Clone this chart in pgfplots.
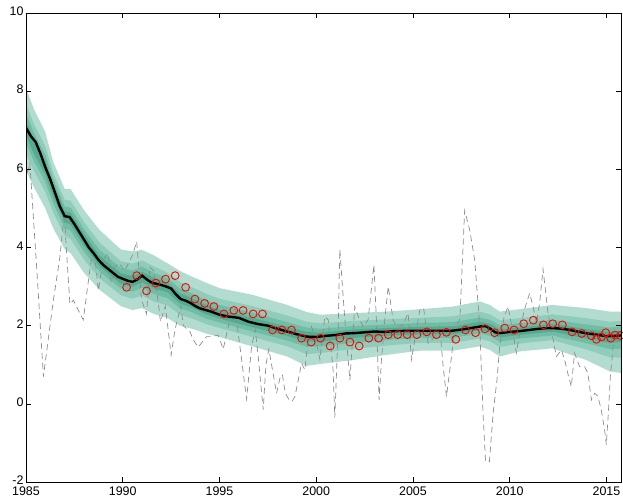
\documentclass[border=0pt]{standalone}
\usepackage{fontspec}
\setmainfont{Liberation Sans}
\usepackage{pgfplots}
\usepackage{pgfplotstable}
\pgfplotsset{compat=1.18}
\usepgfplotslibrary{fillbetween}

\definecolor{cA}{RGB}{179,220,208}
\definecolor{cB}{RGB}{144,204,186}
\definecolor{cC}{RGB}{112,188,164}
\definecolor{cD}{RGB}{84,171,143}

\pgfplotstableread{
x        t1   t2   t3   t4   b4   b3   b2   b1
1985.0   8.08 7.67 7.43 7.24 6.87 6.67 6.41 5.98
1985.4   7.55 7.17 6.94 6.77 6.41 6.22 5.97 5.55
1986.0   6.95 6.59 6.37 6.21 5.86 5.67 5.42 5.00
1986.4   6.20 5.92 5.75 5.63 5.32 5.14 4.90 4.50
1987.0   5.50 5.22 5.05 4.93 4.65 4.50 4.30 3.96
1987.3   5.50 5.20 5.02 4.89 4.59 4.43 4.22 3.86
1988.0   4.95 4.65 4.47 4.34 4.05 3.89 3.69 3.35
1988.8   4.45 4.13 3.94 3.79 3.52 3.39 3.21 2.92
1989.9   3.95 3.65 3.47 3.34 3.07 2.95 2.78 2.50
1990.5   3.90 3.59 3.41 3.27 3.00 2.87 2.69 2.40
1991.0   3.94 3.67 3.51 3.38 3.11 2.97 2.77 2.45
1991.6   3.80 3.52 3.35 3.22 2.95 2.81 2.62 2.30
1992.3   3.60 3.36 3.22 3.11 2.86 2.71 2.52 2.20
1992.95  3.40 3.12 2.95 2.83 2.57 2.45 2.28 2.00
1993.6   3.25 2.98 2.82 2.70 2.46 2.34 2.18 1.92
1994.3   3.10 2.82 2.65 2.53 2.29 2.18 2.04 1.80
1995.0   2.96 2.69 2.53 2.40 2.18 2.08 1.94 1.71
1996.7   2.79 2.50 2.33 2.20 1.96 1.85 1.71 1.47
1998.5   2.53 2.26 2.09 1.97 1.74 1.62 1.47 1.21
1999.5   2.35 2.10 1.95 1.84 1.59 1.46 1.27 0.97
2000.2   2.28 2.06 1.92 1.82 1.59 1.47 1.30 1.02
2001.9   2.32 2.12 1.99 1.90 1.69 1.56 1.40 1.12
2003.6   2.36 2.16 2.03 1.94 1.74 1.63 1.49 1.25
2005.35  2.42 2.20 2.07 1.97 1.78 1.69 1.56 1.36
2007.07  2.49 2.24 2.09 1.98 1.78 1.69 1.56 1.36
2008.45  2.62 2.36 2.21 2.10 1.89 1.80 1.67 1.47
2008.97  2.53 2.29 2.15 2.05 1.84 1.74 1.60 1.38
2009.48  2.36 2.14 2.01 1.91 1.70 1.59 1.45 1.21
2010.5   2.42 2.19 2.06 1.95 1.76 1.67 1.54 1.34
2012.2   2.53 2.29 2.15 2.05 1.85 1.75 1.63 1.42
2013.96  2.45 2.19 2.03 1.91 1.67 1.55 1.39 1.12
2015.17  2.36 2.10 1.95 1.84 1.56 1.40 1.19 0.83
2015.75  2.36 2.12 1.98 1.87 1.59 1.41 1.18 0.79
}\bands

\begin{document}
\begin{tikzpicture}
\begin{axis}[
  name=ax, scale only axis, width=595bp, height=469bp,
  xmin=1985, xmax=2015.75, ymin=-2, ymax=10,
  xtick={1985,1990,1995,2000,2005,2010,2015},
  ytick={-2,0,2,4,6,8,10},
  /pgf/number format/1000 sep={},
  /pgf/number format/assume math mode=true,
  tick label style={font=\fontsize{12.5}{14}\selectfont},
  xticklabel style={yshift=-1.5bp},
  yticklabel style={xshift=1bp, yshift=1.5bp},
  tick align=inside, major tick length=5bp,
  tick style={black, line width=0.6bp},
  axis line style={line width=0.8bp},
  axis on top,
]
\addplot[draw=none, name path=t1, forget plot] table[x=x,y=t1]{\bands};
\addplot[draw=none, name path=b1, forget plot] table[x=x,y=b1]{\bands};
\addplot[draw=none, name path=t2, forget plot] table[x=x,y=t2]{\bands};
\addplot[draw=none, name path=b2, forget plot] table[x=x,y=b2]{\bands};
\addplot[draw=none, name path=t3, forget plot] table[x=x,y=t3]{\bands};
\addplot[draw=none, name path=b3, forget plot] table[x=x,y=b3]{\bands};
\addplot[draw=none, name path=t4, forget plot] table[x=x,y=t4]{\bands};
\addplot[draw=none, name path=b4, forget plot] table[x=x,y=b4]{\bands};
\addplot[fill=cA, draw=none] fill between[of=t1 and b1];
\addplot[fill=cB, draw=none] fill between[of=t2 and b2];
\addplot[fill=cC, draw=none] fill between[of=t3 and b3];
\addplot[fill=cD, draw=none] fill between[of=t4 and b4];

% dashed series
\addplot[gray!90, line width=0.7bp, dash pattern=on 6bp off 4bp] coordinates {
(1985.05,5.9) (1985.2,6.15) (1985.55,3.5) (1985.9,0.7) (1986.4,2.6) (1986.75,3.75)
(1986.98,4.85) (1987.1,3.85) (1987.27,2.55) (1987.45,2.65) (1987.7,2.4) (1987.96,2.15)
(1988.4,3.8) (1988.55,3.8) (1988.74,2.9) (1989.0,3.7) (1989.25,3.85) (1989.4,3.1)
(1989.6,3.5) (1989.8,3.6) (1990.1,3.4) (1990.5,3.8) (1990.72,4.15) (1990.97,2.66)
(1991.23,2.3) (1991.4,3.5) (1991.6,3.4) (1991.83,2.62) (1991.95,2.1) (1992.2,2.5)
(1992.5,1.25) (1992.7,1.9) (1993.0,2.5) (1993.13,2.0) (1993.47,1.85) (1993.64,1.64)
(1993.9,1.45) (1994.33,1.72) (1994.6,1.72) (1994.93,1.76) (1995.19,1.4) (1995.4,1.85)
(1995.6,2.3) (1995.8,2.45) (1996.1,1.3) (1996.4,0.12) (1996.66,1.47) (1996.85,1.9)
(1997.0,1.21) (1997.26,-0.15) (1997.4,1.0) (1997.55,1.4) (1997.77,0.78) (1997.95,0.27)
(1998.12,0.65) (1998.25,0.75) (1998.4,0.27) (1998.6,0.1) (1998.75,0.06) (1998.9,0.19)
(1999.07,0.61) (1999.24,1.04) (1999.41,0.87) (1999.58,1.64) (1999.75,1.98) (2000.0,1.6)
(2000.19,1.13) (2000.44,2.23) (2000.62,2.15) (2000.87,0.87) (2000.96,-0.35) (2001.13,1.89)
(2001.22,3.95) (2001.39,2.74) (2001.56,1.64) (2001.74,0.61) (2001.99,2.49) (2002.2,2.2)
(2002.42,1.98) (2002.68,2.15) (2002.98,3.55) (2003.11,2.15) (2003.25,0.1) (2003.37,1.13)
(2003.54,2.15) (2003.72,3.0) (2003.97,2.15) (2004.15,1.98) (2004.45,2.0) (2004.75,2.32)
(2004.92,1.13) (2005.15,1.8) (2005.35,2.4) (2005.55,2.45) (2005.78,1.55) (2006.1,1.7)
(2006.38,1.98) (2006.56,0.95) (2006.73,0.19) (2006.99,1.21) (2007.16,1.98) (2007.42,2.15)
(2007.67,4.95) (2007.93,4.45) (2008.19,3.68) (2008.45,1.98) (2008.62,-0.24) (2008.75,-1.48)
(2008.95,-1.48) (2009.14,-0.24) (2009.34,0.61) (2009.48,1.47) (2009.7,2.2) (2009.91,2.49)
(2010.1,2.0) (2010.34,1.3) (2010.52,1.81) (2010.75,2.4) (2011.03,2.83) (2011.2,2.5)
(2011.38,2.06) (2011.55,2.6) (2011.72,3.45) (2011.98,2.32) (2012.24,1.64) (2012.41,1.21)
(2012.67,1.38) (2012.85,1.1) (2013.0,0.78) (2013.18,0.44) (2013.35,1.3) (2013.61,0.95)
(2013.87,0.95) (2014.04,0.78) (2014.22,0.1) (2014.39,0.27) (2014.55,0.2) (2014.73,-0.15)
(2014.9,-0.66) (2014.99,-1.05) (2015.1,-0.2) (2015.2,0.7) (2015.35,1.5) (2015.5,1.6)
};

% median
\addplot[black, line width=2.4bp] coordinates {
(1985.0,7.06) (1985.25,6.85) (1985.5,6.7) (1985.75,6.4) (1986.0,6.05) (1986.25,5.75)
(1986.5,5.4) (1986.75,5.05) (1987.0,4.8) (1987.25,4.78) (1987.5,4.6) (1987.75,4.4)
(1988.0,4.2) (1988.25,4.0) (1988.5,3.85) (1988.75,3.68) (1989.0,3.55) (1989.25,3.45)
(1989.5,3.35) (1989.75,3.25) (1990.0,3.2) (1990.25,3.15) (1990.5,3.12) (1990.75,3.18)
(1991.0,3.28) (1991.25,3.18) (1991.5,3.1) (1991.75,3.07) (1992.0,3.04) (1992.25,3.0)
(1992.5,2.95) (1992.75,2.8) (1993.0,2.68) (1993.25,2.64) (1993.5,2.58) (1993.75,2.5)
(1994.0,2.44) (1994.5,2.37) (1995.0,2.28) (1995.5,2.23) (1996.0,2.2) (1996.5,2.1)
(1997.0,2.04) (1997.5,2.0) (1998.0,1.92) (1998.5,1.85) (1999.0,1.78) (1999.5,1.72)
(2000.0,1.71) (2000.5,1.74) (2001.0,1.76) (2001.5,1.8) (2002.0,1.81) (2002.5,1.83)
(2003.0,1.85) (2003.5,1.84) (2004.0,1.86) (2005.0,1.87) (2006.0,1.87) (2007.0,1.87)
(2007.5,1.9) (2008.0,1.94) (2008.5,1.98) (2008.75,1.99) (2009.0,1.92) (2009.25,1.83)
(2009.5,1.81) (2010.0,1.84) (2010.5,1.86) (2011.0,1.89) (2011.5,1.92) (2012.0,1.94)
(2012.5,1.93) (2013.0,1.9) (2013.5,1.85) (2014.0,1.8) (2014.5,1.77) (2015.0,1.73)
(2015.5,1.74) (2015.75,1.75)
};

% observations
\addplot[only marks, mark=o, mark size=3.9bp, red, mark options={line width=0.9bp}] coordinates {
(1990.2,2.98) (1990.72,3.28) (1991.23,2.89) (1991.71,3.09) (1992.21,3.19) (1992.71,3.28)
(1993.25,2.98) (1993.73,2.68) (1994.23,2.57) (1994.71,2.49) (1995.23,2.30) (1995.74,2.39)
(1996.22,2.39) (1996.74,2.30) (1997.22,2.30) (1997.74,1.89) (1998.22,1.89) (1998.72,1.89)
(1999.24,1.68) (1999.74,1.58) (2000.22,1.68) (2000.72,1.48) (2001.22,1.68) (2001.74,1.58)
(2002.22,1.48) (2002.72,1.68) (2003.22,1.68) (2003.72,1.77) (2004.21,1.77) (2004.7,1.77)
(2005.2,1.77) (2005.71,1.84) (2006.21,1.77) (2006.73,1.83) (2007.21,1.65) (2007.71,1.89)
(2008.23,1.82) (2008.72,1.92) (2009.22,1.82) (2009.74,1.94) (2010.22,1.89) (2010.72,2.05)
(2011.22,2.14) (2011.74,2.02) (2012.22,2.05) (2012.72,2.02) (2013.22,1.84) (2013.72,1.80)
(2014.22,1.74) (2014.48,1.65) (2014.74,1.71) (2014.96,1.82) (2015.22,1.68) (2015.44,1.76)
(2015.72,1.75)
};
\end{axis}
\pgfresetboundingbox
\path ([shift={(-26bp,-19bp)}]ax.south west) rectangle ([shift={(2bp,13bp)}]ax.north east);
\end{tikzpicture}
\end{document}
